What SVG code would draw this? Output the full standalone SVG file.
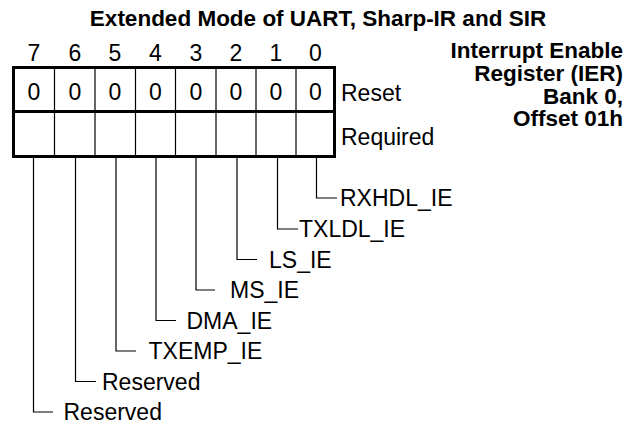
<svg xmlns="http://www.w3.org/2000/svg" width="636" height="424" viewBox="0 0 636 424">
<style>
text{font-family:"Liberation Sans",Arial,sans-serif;fill:#000}
.t{font-size:22.5px;font-weight:bold;text-anchor:middle}
.b{font-size:22.5px;font-weight:bold;text-anchor:end}
.n{font-size:23px;text-anchor:middle}
.l{font-size:23px}
.thick{fill:none;stroke:#000;stroke-width:3}
.thin{fill:none;stroke:#000;stroke-width:1.2}
</style>
<rect width="636" height="424" fill="#fff"/>
<text class="t" x="318" y="26">Extended Mode of UART, Sharp-IR and SIR</text>
<g id="title-block">
<text class="b" x="623" y="58">Interrupt Enable</text>
<text class="b" x="623" y="81">Register (IER)</text>
<text class="b" x="623" y="103.5">Bank 0,</text>
<text class="b" x="623" y="126">Offset 01h</text>
</g>
<g id="register">
<rect class="thick" x="13.5" y="67.5" width="321" height="89"/>
<line class="thick" x1="13.5" y1="111.5" x2="334.5" y2="111.5"/>
<path class="thin" d="M54.5 67.5V156.5M95 67.5V156.5M135.5 67.5V156.5M175.5 67.5V156.5M216 67.5V156.5M256 67.5V156.5M296 67.5V156.5"/>
<g class="n">
<text x="34" y="61">7</text><text x="75" y="61">6</text><text x="115" y="61">5</text><text x="155.5" y="61">4</text><text x="196" y="61">3</text><text x="236" y="61">2</text><text x="276" y="61">1</text><text x="315.5" y="61">0</text>
<text x="34" y="100">0</text><text x="75" y="100">0</text><text x="115" y="100">0</text><text x="155.5" y="100">0</text><text x="196" y="100">0</text><text x="236" y="100">0</text><text x="276" y="100">0</text><text x="315.5" y="100">0</text>
</g>
<text class="l" x="341" y="101">Reset</text>
<text class="l" x="341" y="145">Required</text>
</g>
<g id="connectors">
<path class="thin" d="M316.5 158V198H337"/>
<path class="thin" d="M277.5 158V229H298"/>
<path class="thin" d="M237 158V259.5H257"/>
<path class="thin" d="M196 158V290H215"/>
<path class="thin" d="M156 158V320.5H176"/>
<path class="thin" d="M116 158V351H136"/>
<path class="thin" d="M75.5 158V381.5H96"/>
<path class="thin" d="M33.5 158V412H53"/>
</g>
<g id="labels">
<text class="l" x="340" y="206">RXHDL_IE</text>
<text class="l" x="299" y="237">TXLDL_IE</text>
<text class="l" x="269" y="267.5">LS_IE</text>
<text class="l" x="230" y="298">MS_IE</text>
<text class="l" x="186.5" y="328.5">DMA_IE</text>
<text class="l" x="148.5" y="359">TXEMP_IE</text>
<text class="l" x="102" y="389.5">Reserved</text>
<text class="l" x="63.5" y="420">Reserved</text>
</g>
</svg>
